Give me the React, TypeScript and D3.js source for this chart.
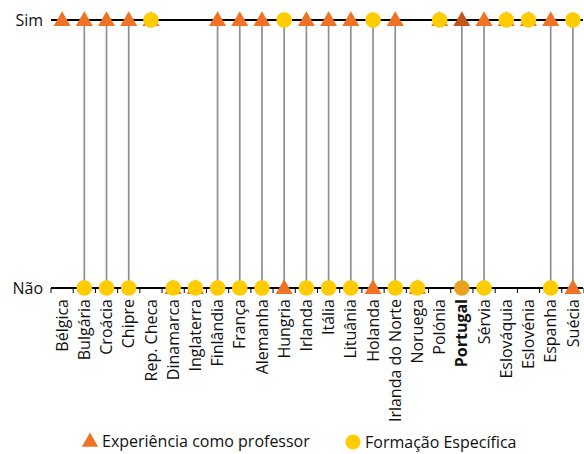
import React from 'react';
import * as d3 from 'd3';

// países, por ordem do gráfico
const countries = [
  'Bélgica', 'Bulgária', 'Croácia', 'Chipre', 'Rep. Checa', 'Dinamarca', 'Inglaterra',
  'Finlândia', 'França', 'Alemanha', 'Hungria', 'Irlanda', 'Itália', 'Lituânia', 'Holanda',
  'Irlanda do Norte', 'Noruega', 'Polónia', 'Portugal', 'Sérvia', 'Eslováquia', 'Eslovénia',
  'Espanha', 'Suécia',
];
// 1 = Sim, 0 = Não, null = sem dados
const experiencia = [1, 1, 1, 1, 1, 0, 0, 1, 1, 1, 0, 1, 1, 1, 0, 1, 0, 1, 1, 1, 1, 1, 1, 0];
const formacao = [null, 0, 0, 0, 1, 0, 0, 0, 0, 0, 1, 0, 0, 0, 1, 0, 0, 1, 0, 0, 1, 1, 0, 1];
const yLabels = ['Não', 'Sim'];
const highlight = 'Portugal';

const W = 584;
const H = 454;
const FONT = '"Open Sans", sans-serif';

export default function App() {
  const x = d3.scaleBand<string>().domain(countries).range([51, 584]);
  const y = d3.scalePoint<string>().domain(yLabels).range([288, 20]);
  const cx = (c: string) => (x(c) as number) + x.bandwidth() / 2;
  const yv = (v: number) => y(yLabels[v]) as number;
  const tri = d3.symbol(d3.symbolTriangle, 125)() as string;
  const triLegend = d3.symbol(d3.symbolTriangle, 115)() as string;

  return (
    <svg width={W} height={H} style={{ position: 'absolute', left: 0, top: 0 }} fontFamily={FONT}>
      {/* linhas verticais entre Sim e Não */}
      {countries.map((c, i) => {
        const f = formacao[i];
        if (f === null || f === experiencia[i]) return null;
        return (
          <line key={'v' + c} x1={cx(c)} x2={cx(c)} y1={yv(1)} y2={yv(0)} stroke="#8f8f8f" strokeWidth={1.7} />
        );
      })}

      {/* eixos */}
      {yLabels.map(l => (
        <g key={l}>
          <line x1={51} x2={583} y1={y(l)} y2={y(l)} stroke="#000" strokeWidth={2} />
          <text x={43} y={y(l)} dy="0.35em" textAnchor="end" fontSize={16} fill="#111">{l}</text>
        </g>
      ))}
      {/* marcas do eixo inferior */}
      {countries.map(c => (
        <line key={'t' + c} x1={(x(c) as number) + x.bandwidth()} x2={(x(c) as number) + x.bandwidth()}
          y1={yv(0)} y2={yv(0) + 5} stroke="#000" strokeWidth={1} />
      ))}
      <line x1={51} x2={51} y1={yv(0)} y2={yv(0) + 5} stroke="#000" strokeWidth={1} />

      {/* triângulos: experiência */}
      {countries.map((c, i) => (
        <path key={'e' + c} d={tri} transform={`translate(${cx(c)},${yv(experiencia[i]) + 1})`}
          fill={c === highlight ? '#c0561c' : '#f07224'} />
      ))}
      {/* círculos: formação */}
      {countries.map((c, i) => formacao[i] === null ? null : (
        <circle key={'f' + c} cx={cx(c)} cy={yv(formacao[i] as number)} r={7.8}
          fill={c === highlight ? '#e8a21c' : '#ffcc00'} />
      ))}

      {/* nomes dos países */}
      {countries.map(c => (
        <text key={'l' + c} transform={`translate(${cx(c)},299) rotate(-90)`} dy="0.35em" textAnchor="end"
          fontSize={16} fontWeight={c === highlight ? 'bold' : 'normal'} fill="#111">{c}</text>
      ))}

      {/* legenda */}
      <path d={triLegend} transform="translate(90,442)" fill="#f07224" />
      <text x={102} y={441} dy="0.35em" fontSize={16} fill="#111">Experiência como professor</text>
      <circle cx={353} cy={442} r={7.5} fill="#ffcc00" />
      <text x={365} y={442} dy="0.35em" fontSize={16} fill="#111">Formação Específica</text>
    </svg>
  );
}
